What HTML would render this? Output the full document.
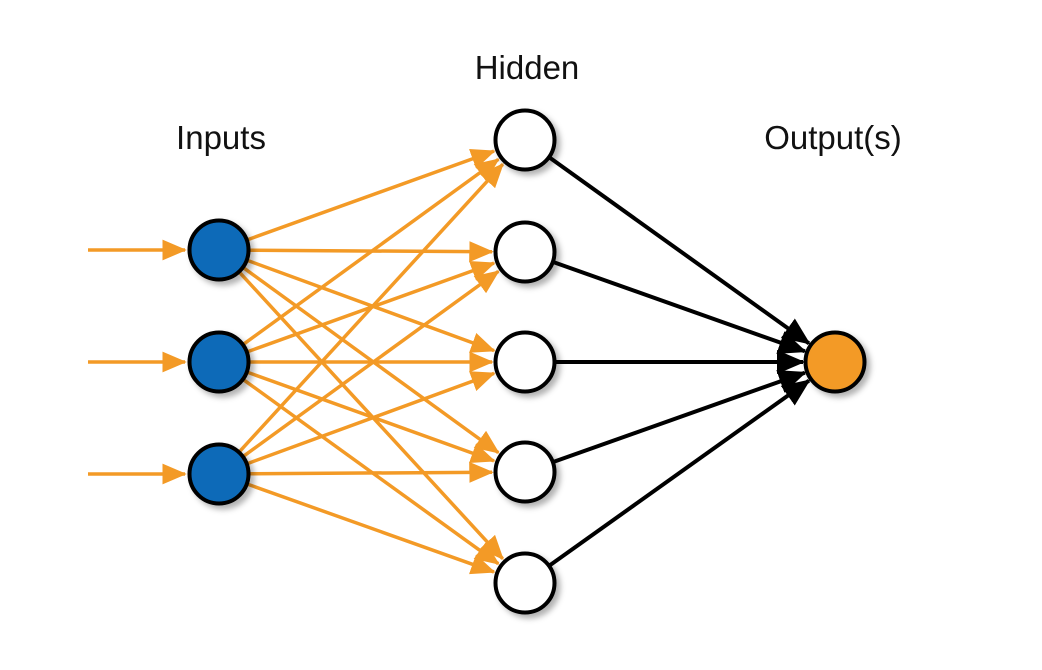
<!DOCTYPE html>
<html><head><meta charset="utf-8"><style>
html,body{margin:0;padding:0;background:#fff;}
svg{display:block;}
text{font-family:"Liberation Sans",sans-serif;font-size:33px;fill:#111;}
</style></head><body>
<svg id="s" width="1042" height="670" viewBox="0 0 1042 670" xmlns="http://www.w3.org/2000/svg">
<defs>
<marker id="ao" markerWidth="7" markerHeight="6" refX="6.5" refY="3" orient="auto" markerUnits="strokeWidth"><path d="M0,0 L7,3 L0,6 Z" fill="#f39a26"/></marker>
<marker id="ab" markerWidth="7" markerHeight="6" refX="6.5" refY="3" orient="auto" markerUnits="strokeWidth"><path d="M0,0 L7,3 L0,6 Z" fill="#000"/></marker>
<filter id="sh" x="-30%" y="-30%" width="160%" height="160%"><feDropShadow dx="4" dy="4" stdDeviation="3" flood-color="#000" flood-opacity="0.3"/></filter>
</defs>
<text x="221" y="149" text-anchor="middle">Inputs</text>
<text x="527" y="79" text-anchor="middle">Hidden</text>
<text x="833" y="149" text-anchor="middle">Output(s)</text>
<g id="lines"></g>
<g id="nodes"></g>
</svg>
<script>
var NS="http://www.w3.org/2000/svg";
var L=document.getElementById("lines"),N=document.getElementById("nodes");
var inY=[250,362,474],hY=[140,252,362,472,583],ix=219,hx=525,ox=835,oy=362,r=31;
function line(x1,y1,x2,y2,c,m,w){var e=document.createElementNS(NS,"line");e.setAttribute("x1",x1);e.setAttribute("y1",y1);e.setAttribute("x2",x2);e.setAttribute("y2",y2);e.setAttribute("stroke",c);e.setAttribute("stroke-width",w);e.setAttribute("marker-end","url(#"+m+")");L.appendChild(e);}
function circ(x,y,f){var e=document.createElementNS(NS,"circle");e.setAttribute("cx",x);e.setAttribute("cy",y);e.setAttribute("r",29.5);e.setAttribute("fill",f);e.setAttribute("stroke","#000");e.setAttribute("stroke-width","4");e.setAttribute("filter","url(#sh)");N.appendChild(e);}
inY.forEach(function(y){line(88,y,185,y,"#f39a26","ao",3.5);
 hY.forEach(function(h){var dx=hx-ix,dy=h-y,d=Math.sqrt(dx*dx+dy*dy);
  line(ix+dx/d*r,y+dy/d*r,hx-dx/d*(r+2),h-dy/d*(r+2),"#f39a26","ao",3.5);});});
hY.forEach(function(h){var dx=ox-hx,dy=oy-h,d=Math.sqrt(dx*dx+dy*dy);
 line(hx+dx/d*r,h+dy/d*r,ox-dx/d*(r+1),oy-dy/d*(r+1),"#000","ab",4);});
inY.forEach(function(y){circ(ix,y,"#0a6bb8");});
hY.forEach(function(h){circ(hx,h,"#fff");});
circ(ox,oy,"#f39a26");
</script>
</body></html>
